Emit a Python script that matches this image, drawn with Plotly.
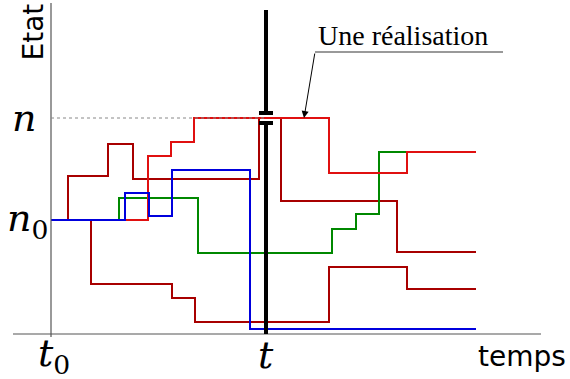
import plotly.graph_objects as go

# ---- data (time units, state units) ----
t_obs = 215          # observation time t
n_level = 216        # state n
n0_level = 114       # initial state n0

path_a_t = [0, 17, 57, 82, 208, 230, 346, 425]
path_a_s = [114, 158, 190, 155, 216, 133, 82, 82]

path_b_t = [0, 97, 120, 143, 278, 356, 425]
path_b_s = [114, 178, 192, 216, 161, 182, 182]

path_c_t = [0, 68, 147, 281, 305, 328, 425]
path_c_s = [114, 136, 81, 105, 120, 182, 182]

path_d_t = [0, 74, 98, 121, 199, 425]
path_d_s = [114, 141, 118, 164, 5, 5]

path_e_t = [0, 40, 121, 144, 278, 356, 425]
path_e_s = [114, 50, 36, 12, 67, 45, 45]

DARKRED = "#a80000"
RED = "#e01010"
GREEN = "#008800"
BLUE = "#0000dd"

fig = go.Figure()

for ts, ss, col in [
    (path_e_t, path_e_s, DARKRED),
    (path_a_t, path_a_s, DARKRED),
    (path_c_t, path_c_s, GREEN),
    (path_b_t, path_b_s, RED),
    (path_d_t, path_d_s, BLUE),
]:
    fig.add_trace(go.Scatter(x=ts, y=ss, mode="lines", line=dict(color=col, width=2, shape="hv"),
                             hoverinfo="skip", showlegend=False))

shapes = []
# axes
shapes.append(dict(type="line", x0=0, x1=0, y0=-3, y1=331, line=dict(color="#555", width=1.2)))
shapes.append(dict(type="line", x0=-38, x1=490, y0=0, y1=0, line=dict(color="#555", width=1.2)))
# dotted guide at n
shapes.append(dict(type="line", x0=0, x1=t_obs, y0=n_level, y1=n_level,
                   line=dict(color="#888", width=1, dash="dot")))
# thick black vertical at t with a gap around n
gap = 5
shapes.append(dict(type="line", x0=t_obs, x1=t_obs, y0=n_level + gap, y1=324, line=dict(color="black", width=4)))
shapes.append(dict(type="line", x0=t_obs, x1=t_obs, y0=0, y1=n_level - gap, line=dict(color="black", width=4)))
for yy in (n_level + gap, n_level - gap):
    shapes.append(dict(type="line", x0=t_obs - 7, x1=t_obs + 7, y0=yy, y1=yy, line=dict(color="black", width=4)))
# leader underline for the annotation
shapes.append(dict(type="line", x0=264, x1=452, y0=282, y1=282, line=dict(color="#777", width=1.5)))

annotations = [
    dict(x=253, y=n_level, ax=264, ay=282, xref="x", yref="y", axref="x", ayref="y",
         text="", showarrow=True, arrowhead=2, arrowsize=1.4, arrowwidth=1, arrowcolor="black"),
    dict(x=352, y=281, xref="x", yref="y", text="Une réalisation", showarrow=False,
         yanchor="bottom", font=dict(family="Liberation Serif", size=28, color="black")),
    dict(x=-18, y=332, xref="x", yref="y", text="Etat", showarrow=False, textangle=-90,
         xanchor="center", yanchor="top", font=dict(family="DejaVu Sans", size=28, color="black")),
    dict(x=517, y=-22, xref="x", yref="y", text="temps", showarrow=False, xanchor="right",
         yanchor="middle", font=dict(family="DejaVu Sans", size=28, color="black")),
    dict(x=-27, y=n_level, xref="x", yref="y", text="<i>n</i>", showarrow=False,
         xanchor="center", yanchor="middle", font=dict(family="DejaVu Serif", size=38, color="black")),
    dict(x=-24, y=n0_level, xref="x", yref="y", text="<i>n</i><sub>0</sub>", showarrow=False,
         xanchor="center", yanchor="middle", font=dict(family="DejaVu Serif", size=38, color="black")),
    dict(x=3, y=-21, xref="x", yref="y", text="<i>t</i><sub>0</sub>", showarrow=False,
         xanchor="center", yanchor="middle", font=dict(family="DejaVu Serif", size=38, color="black")),
    dict(x=t_obs, y=-21, xref="x", yref="y", text="<i>t</i>", showarrow=False,
         xanchor="center", yanchor="middle", font=dict(family="DejaVu Serif", size=38, color="black")),
]

fig.update_layout(
    width=570, height=379,
    margin=dict(l=0, r=0, t=0, b=0),
    paper_bgcolor="white", plot_bgcolor="white",
    xaxis=dict(range=[-51, 519], visible=False, fixedrange=True),
    yaxis=dict(range=[-45, 334], visible=False, fixedrange=True),
    shapes=shapes, annotations=annotations, showlegend=False,
)

fig.write_html("out.html", config={"displayModeBar": False},
               post_script="document.body.style.margin='0';document.body.style.overflow='hidden';")
